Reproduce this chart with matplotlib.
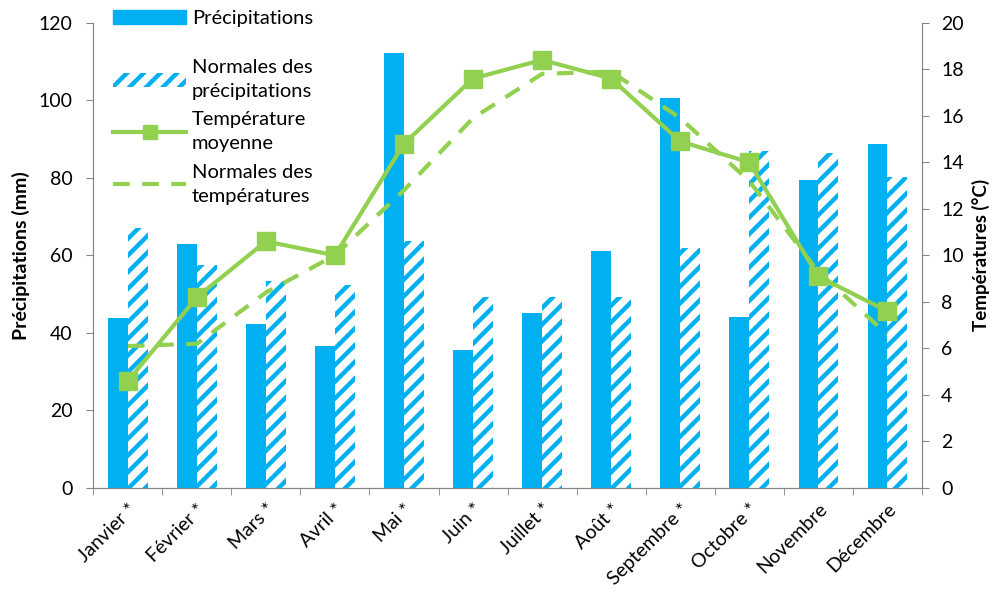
import numpy as np
import matplotlib
matplotlib.use("Agg")
import matplotlib.pyplot as plt
from matplotlib.patches import Patch
from matplotlib.lines import Line2D

mois = ["Janvier *", "Février *", "Mars *", "Avril *", "Mai *", "Juin *",
        "Juillet *", "Août *", "Septembre *", "Octobre *", "Novembre", "Décembre"]
precip = [43.8, 62.8, 42.2, 36.7, 112.3, 35.6, 45.0, 61.2, 100.5, 44.0, 79.5, 88.8]
precip_norm = [67.0, 57.4, 53.3, 52.3, 63.6, 49.2, 49.2, 49.2, 61.9, 86.8, 86.3, 80.2]
temp = [4.6, 8.2, 10.6, 10.0, 14.8, 17.6, 18.4, 17.6, 14.9, 14.0, 9.1, 7.6]
temp_norm = [6.1, 6.2, 8.4, 10.0, 12.8, 15.9, 17.8, 17.9, 15.9, 13.2, 9.3, 6.6]

bleu = "#00B0F0"
vert = "#92D050"
gris = "#868686"

plt.rcParams["font.family"] = ["Lato", "DejaVu Sans"]
plt.rcParams["hatch.linewidth"] = 3.2

fig = plt.figure(figsize=(9.94, 5.94), dpi=100)
ax = fig.add_axes([0.0939, 0.1785, 0.8334, 0.7833])
ax2 = ax.twinx()

x = np.arange(len(mois))
w = 0.285
ax.bar(x - w / 2, precip, width=w, color=bleu, linewidth=0)
ax.bar(x + w / 2, precip_norm, width=w, facecolor="white", edgecolor=bleu,
       hatch="//", linewidth=0)

ax2.plot(x, temp, color=vert, lw=3, marker="s", ms=13)
ax2.plot(x, temp_norm, color=vert, lw=3, ls=(0, (4, 3)))

ax.set_xlim(-0.5, 11.5)
ax.set_ylim(0, 120)
ax2.set_ylim(0, 20)
ax.set_yticks(range(0, 121, 20))
ax2.set_yticks(range(0, 21, 2))

ax.set_xticks(x)
ax.set_xticklabels(mois, rotation=45, ha="right", rotation_mode="anchor")
ax.set_xticks(np.arange(-0.5, 12, 1), minor=True)
ax.tick_params(axis="x", which="major", length=0, pad=9, labelsize=14)
ax.tick_params(axis="x", which="minor", length=5, color=gris)
ax.tick_params(axis="y", length=5, color=gris, labelsize=14, pad=10)
ax2.tick_params(axis="y", length=5, color=gris, labelsize=14, pad=9)

for a in (ax, ax2):
    a.spines["top"].set_visible(False)
    for s in ("left", "right", "bottom"):
        a.spines[s].set_color(gris)

ax.set_ylabel("Précipitations (mm)", fontsize=14, fontweight="bold", labelpad=6)
ax2.set_ylabel("Températures (°C)", fontsize=13.5, fontweight="bold", labelpad=6)

kw = dict(frameon=False, fontsize=14.5, handlelength=3.6, borderpad=0,
          borderaxespad=0, handletextpad=0.3, loc="upper left")
leg1 = fig.legend(handles=[Patch(color=bleu)], labels=["Précipitations"],
                  bbox_to_anchor=(0.114, 0.983), **kw)
leg2 = fig.legend(handles=[Patch(facecolor="white", edgecolor=bleu, hatch="//", linewidth=0),
                           Line2D([], [], color=vert, lw=3, marker="s", ms=10),
                           Line2D([], [], color=vert, lw=3, ls=(0, (4, 3)))],
                  labels=["Normales des\nprécipitations", "Température\nmoyenne",
                          "Normales des\ntempératures"],
                  bbox_to_anchor=(0.114, 0.9), labelspacing=0.55, **kw)
for t in leg2.get_texts():
    t.set_linespacing(1.5)

fig.savefig("out.png", dpi=100)
